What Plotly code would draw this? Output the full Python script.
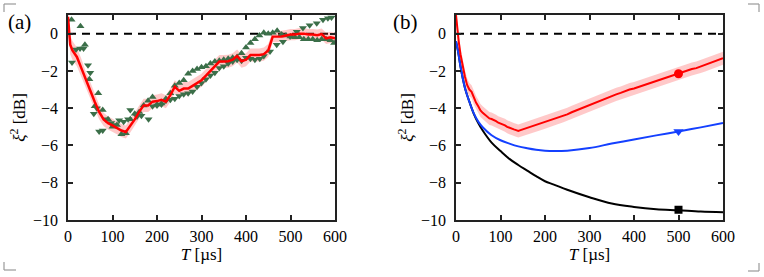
import plotly.graph_objects as go

# ---------------- Panel (a) data ----------------
T_a = [0, 5, 10, 20, 30, 40, 50, 60, 70, 80, 90, 100, 110, 120, 130, 140, 150, 160, 170, 180,
       190, 200, 210, 220, 230, 240, 250, 260, 270, 280, 290, 300, 310, 320, 330, 340, 350, 360,
       370, 380, 390, 400, 410, 420, 430, 440, 450, 460, 470, 480, 490, 500, 510, 520, 530, 540,
       550, 560, 570, 580, 590, 600]
red_a = [0.9, -0.6, -0.9, -1.25, -1.85, -2.5, -3.05, -3.65, -4.2, -4.6, -4.8, -4.92, -5.05, -5.2,
         -5.28, -4.95, -4.6, -4.2, -3.85, -3.85, -3.65, -3.62, -3.55, -3.65, -3.3, -2.85, -3.07,
         -2.95, -2.95, -2.8, -2.65, -2.5, -2.25, -2.0, -1.75, -1.5, -1.5, -1.48, -1.4, -1.2, -1.48,
         -1.4, -1.15, -1.15, -1.15, -1.1, -0.9, -0.16, -0.16, -0.15, -0.1, -0.05, -0.05, 0.0, 0.0,
         -0.05, -0.05, -0.08, -0.02, -0.25, -0.2, -0.25]
err_a = [0.5, 0.5, 0.5, 0.5, 0.5, 0.45, 0.45, 0.4, 0.4, 0.35, 0.35, 0.35, 0.35, 0.35, 0.35, 0.35,
         0.35, 0.35, 0.35, 0.35, 0.35, 0.35, 0.35, 0.35, 0.35, 0.35, 0.35, 0.35, 0.35, 0.35, 0.35,
         0.35, 0.35, 0.35, 0.35, 0.35, 0.35, 0.35, 0.35, 0.35, 0.35, 0.35, 0.35, 0.35, 0.35, 0.35,
         0.35, 0.3, 0.3, 0.3, 0.3, 0.3, 0.3, 0.3, 0.3, 0.3, 0.3, 0.3, 0.3, 0.3, 0.3, 0.3]

T_up = [8, 28, 38, 48, 60, 68, 78, 90, 100, 110, 120, 130, 140, 150, 160, 170, 180, 190, 200, 210,
        220, 230, 240, 250, 260, 270, 280, 290, 300, 310, 320, 330, 340, 350, 360, 370, 380, 390,
        400, 410, 420, 430, 440, 450, 460, 470, 480, 490, 500, 510, 520, 530, 540, 550, 560, 570,
        580, 590, 598]
up_a = [0.75, 0.4, -0.6, -2.45, -3.9, -3.2, -4.1, -4.6, -5.0, -4.9, -5.4, -5.35, -4.6, -4.3, -4.2,
        -3.85, -3.6, -3.4, -3.8, -3.75, -3.5, -3.2, -2.8, -2.65, -2.5, -2.15, -2.0, -1.9, -1.8,
        -1.75, -1.6, -1.5, -1.45, -1.4, -1.35, -1.3, -1.25, -1.05, -0.75, -0.5, -0.3, -0.1, 0.05,
        0.0, 0.05, 0.15, -0.05, -0.1, -0.15, -0.2, -0.2, -0.3, -0.3, -0.3, -0.35, -0.3, -0.3,
        -0.35, -0.5]

T_dn = [9, 18, 27, 35, 45, 50, 58, 65, 70, 78, 85, 97, 106, 115, 125, 135, 140, 155, 165, 181,
        190, 200, 210, 220, 230, 240, 250, 260, 270, 280, 290, 300, 310, 320, 330, 340, 350, 360,
        370, 380, 390, 400, 410, 420, 431, 440, 454, 469, 483, 499, 514, 528, 543, 559, 573, 584,
        592]
dn_a = [-1.55, -0.85, -0.8, -0.8, -1.7, -2.1, -4.3, -4.0, -5.25, -5.2, -4.6, -4.8, -4.9, -4.65,
        -4.73, -4.6, -4.1, -4.45, -4.4, -4.6, -3.9, -3.85, -3.8, -3.6, -3.55, -3.5, -3.35, -3.25,
        -3.2, -3.1, -2.85, -2.65, -2.45, -2.25, -2.1, -1.85, -1.75, -1.6, -1.5, -1.4, -1.45, -1.3,
        -1.35, -1.4, -1.35, -1.2, -0.96, -0.6, -0.43, -0.16, 0.1, 0.3, 0.45, 0.56, 0.74, 0.83, 0.86]

# ---------------- Panel (b) data ----------------
T_b = [0, 3, 6, 10, 15, 20, 25, 30, 35, 40, 45, 50, 55, 60, 65, 70, 75, 80, 85, 90, 95, 100, 105,
       110, 115, 120, 125, 130, 135, 140, 145, 150, 160, 170, 180, 190, 200, 210, 220, 230, 240,
       250, 260, 270, 280, 290, 300, 310, 320, 330, 340, 350, 360, 370, 380, 390, 400, 410, 420,
       430, 440, 450, 460, 470, 480, 490, 500, 510, 520, 530, 540, 550, 560, 570, 580, 590, 600]
red_b = [1.0, 0.2, -0.4, -1.1, -1.8, -2.3, -2.75, -3.0, -3.12, -3.45, -3.7, -3.9, -4.12, -4.25,
         -4.35, -4.45, -4.55, -4.58, -4.62, -4.7, -4.78, -4.82, -4.86, -4.92, -5.0, -5.06, -5.1,
         -5.14, -5.18, -5.22, -5.18, -5.14, -5.08, -5.0, -4.92, -4.84, -4.76, -4.68, -4.6, -4.5,
         -4.42, -4.33, -4.22, -4.12, -4.02, -3.92, -3.86, -3.76, -3.66, -3.55, -3.46, -3.36, -3.26,
         -3.18, -3.08, -3.0, -2.94, -2.86, -2.76, -2.66, -2.6, -2.52, -2.44, -2.36, -2.27, -2.2,
         -2.13, -2.06, -1.98, -1.9, -1.85, -1.76, -1.68, -1.58, -1.5, -1.42, -1.32]
err_b = 0.35

T_th = [0, 5, 10, 20, 30, 40, 50, 60, 80, 100, 120, 140, 160, 180, 200, 220, 250, 300, 350, 400,
        450, 500, 550, 600]
blue_b = [-0.4, -1.0, -1.75, -2.9, -3.65, -4.28, -4.72, -5.02, -5.45, -5.72, -5.9, -6.05, -6.15,
          -6.23, -6.28, -6.3, -6.28, -6.14, -5.9, -5.68, -5.46, -5.25, -5.03, -4.8]
black_b = [-0.4, -1.0, -1.75, -2.9, -3.65, -4.3, -4.8, -5.2, -5.85, -6.3, -6.72, -7.05, -7.35,
           -7.65, -7.92, -8.1, -8.38, -8.78, -9.12, -9.3, -9.42, -9.48, -9.55, -9.58]

T_mark = [500]
red_mark = [-2.15]
blue_mark = [-5.25]
black_mark = [-9.45]

x_ticks = [0, 100, 200, 300, 400, 500, 600]
y_ticks = [0, -2, -4, -6, -8, -10]

RED = "#ff0000"
BAND = "rgba(255,60,60,0.28)"
GREEN = "#3b6f49"
FONT = "Liberation Serif, Times New Roman, serif"

fig = go.Figure()


def band(x, y, e, xa, ya):
    ee = e if isinstance(e, list) else [e] * len(x)
    up = [v + d for v, d in zip(y, ee)]
    lo = [v - d for v, d in zip(y, ee)]
    fig.add_trace(go.Scatter(x=x + x[::-1], y=up + lo[::-1], fill="toself", fillcolor=BAND,
                             line=dict(width=0), mode="lines", xaxis=xa, yaxis=ya,
                             hoverinfo="skip", showlegend=False))


# panel (a)
fig.add_trace(go.Scatter(x=[0, 600], y=[0, 0], mode="lines", xaxis="x", yaxis="y",
                         line=dict(color="black", width=2, dash="8px,6px"), showlegend=False))
band(T_a, red_a, err_a, "x", "y")
fig.add_trace(go.Scatter(x=T_up, y=up_a, mode="markers", xaxis="x", yaxis="y",
                         marker=dict(symbol="triangle-up", size=7, color=GREEN), showlegend=False))
fig.add_trace(go.Scatter(x=T_dn, y=dn_a, mode="markers", xaxis="x", yaxis="y",
                         marker=dict(symbol="triangle-down", size=7, color=GREEN), showlegend=False))
fig.add_trace(go.Scatter(x=T_a, y=red_a, mode="lines", xaxis="x", yaxis="y",
                         line=dict(color=RED, width=2.5), showlegend=False))

# panel (b)
fig.add_trace(go.Scatter(x=[0, 600], y=[0, 0], mode="lines", xaxis="x2", yaxis="y2",
                         line=dict(color="black", width=2, dash="8px,6px"), showlegend=False))
band(T_b, red_b, err_b, "x2", "y2")
fig.add_trace(go.Scatter(x=T_th, y=black_b, mode="lines", xaxis="x2", yaxis="y2",
                         line=dict(color="black", width=2, shape="spline"), showlegend=False))
fig.add_trace(go.Scatter(x=T_th, y=blue_b, mode="lines", xaxis="x2", yaxis="y2",
                         line=dict(color="#1440ff", width=2, shape="spline"), showlegend=False))
fig.add_trace(go.Scatter(x=T_b, y=red_b, mode="lines", xaxis="x2", yaxis="y2",
                         line=dict(color=RED, width=2), showlegend=False))
fig.add_trace(go.Scatter(x=T_mark, y=red_mark, mode="markers", xaxis="x2", yaxis="y2",
                         marker=dict(symbol="circle", size=9, color=RED), showlegend=False))
fig.add_trace(go.Scatter(x=T_mark, y=blue_mark, mode="markers", xaxis="x2", yaxis="y2",
                         marker=dict(symbol="triangle-down", size=9, color="#1440ff"),
                         showlegend=False))
fig.add_trace(go.Scatter(x=T_mark, y=black_mark, mode="markers", xaxis="x2", yaxis="y2",
                         marker=dict(symbol="square", size=8, color="black"), showlegend=False))

W, H = 764, 277
ydom = [(H - 220) / H, (H - 15) / H]
xdom_a = [68 / W, 335 / W]
xdom_b = [456 / W, 723 / W]

axis_common = dict(showgrid=False, zeroline=False, showline=True, linecolor="#222",
                   linewidth=1.5, mirror="allticks", ticks="inside", ticklen=5, tickwidth=1.5,
                   tickcolor="#222", automargin=False,
                   tickfont=dict(family=FONT, size=16, color="black"))
xcommon = dict(axis_common, range=[0, 600], tickvals=x_ticks, ticklabelstandoff=1,
               title=dict(text="<i>T</i> [µs]", font=dict(family=FONT, size=17, color="black"),
                          standoff=3))
ycommon = dict(axis_common, range=[-10, 1], tickvals=y_ticks, ticklabelstandoff=5,
               title=dict(text="<i>ξ</i><sup>2</sup> [dB]",
                          font=dict(family=FONT, size=17, color="black"), standoff=3))

fig.update_layout(
    width=W, height=H, margin=dict(l=0, r=0, t=0, b=0),
    paper_bgcolor="white", plot_bgcolor="white", showlegend=False,
    xaxis=dict(xcommon, domain=xdom_a, anchor="y"),
    yaxis=dict(ycommon, domain=ydom, anchor="x"),
    xaxis2=dict(xcommon, domain=xdom_b, anchor="y2"),
    yaxis2=dict(ycommon, domain=ydom, anchor="x2"),
    annotations=[
        dict(text="(a)", x=6 / W, y=1 - 22 / H, xref="paper", yref="paper", xanchor="left",
             yanchor="middle", showarrow=False, font=dict(family=FONT, size=21, color="black")),
        dict(text="(b)", x=391 / W, y=1 - 22 / H, xref="paper", yref="paper", xanchor="left",
             yanchor="middle", showarrow=False, font=dict(family=FONT, size=21, color="black")),
    ],
)

# corner crop marks
marks = [((4, 4), (16, 4)), ((4, 4), (4, 12)),
         ((4, 270), (16, 270)), ((4, 262), (4, 270)),
         ((748, 4), (759, 4)), ((759, 4), (759, 12)),
         ((748, 271), (759, 271)), ((759, 263), (759, 271))]
for (x0, y0), (x1, y1) in marks:
    fig.add_shape(type="line", xref="paper", yref="paper", x0=x0 / W, x1=x1 / W,
                  y0=1 - y0 / H, y1=1 - y1 / H, line=dict(color="#999", width=1.2))

fig.write_html("out.html", config={"displayModeBar": False},
               post_script="document.body.style.margin='0';document.body.style.overflow='hidden';")
